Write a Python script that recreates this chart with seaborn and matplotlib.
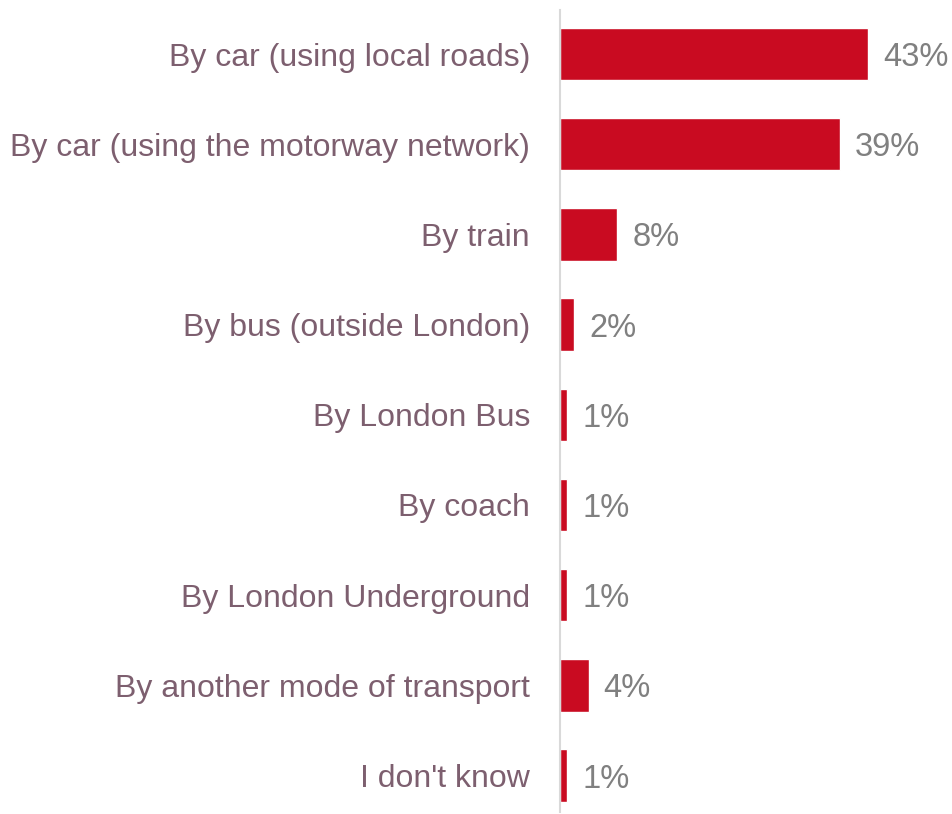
import pandas as pd
import matplotlib.pyplot as plt
import seaborn as sns

categories = [
    "By car (using local roads)",
    "By car (using the motorway network)",
    "By train",
    "By bus (outside London)",
    "By London Bus",
    "By coach",
    "By London Underground",
    "By another mode of transport",
    "I don't know",
]
values = [43, 39, 8, 2, 1, 1, 1, 4, 1]

df = pd.DataFrame({"mode": categories, "pct": values})

sns.set_style("white")
plt.rcParams["font.family"] = ["Liberation Sans", "DejaVu Sans"]

fig = plt.figure(figsize=(9.53, 8.14), dpi=100)
ax = fig.add_axes([560 / 953, 2 / 814, 1 - 560 / 953, 802 / 814])

sns.barplot(data=df, x="pct", y="mode", color="#C90B21", width=0.58,
            saturation=1, ax=ax, orient="h")

ax.set_xlim(0, (953 - 560) / 7.17)
ax.set_ylim(8.404, -0.488)

for i, v in enumerate(values):
    ax.text(v + 2.1, i, f"{v}%", va="center_baseline", ha="left",
            fontsize=23.5, color="#808080")

ax.set_xlabel("")
ax.set_ylabel("")
ax.set_xticks([])
ax.tick_params(axis="y", length=0, pad=21.6, labelsize=23, labelcolor="#7D5F6F")
for lab in ax.get_yticklabels():
    lab.set_verticalalignment("center_baseline")
for s in ["top", "right", "bottom"]:
    ax.spines[s].set_visible(False)
ax.spines["left"].set_color("#D9D9D9")
ax.spines["left"].set_linewidth(1.5)

plt.savefig("out.png", dpi=100)
